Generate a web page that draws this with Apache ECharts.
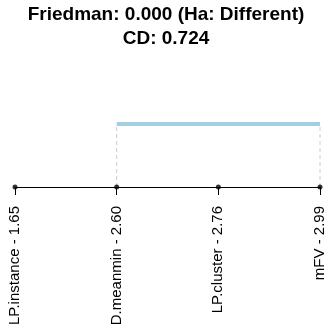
<!DOCTYPE html>
<html>
<head>
<meta charset="utf-8">
<script src="https://cdn.jsdelivr.net/npm/echarts@6/dist/echarts.min.js"></script>
<style>
html,body{margin:0;padding:0;background:#fff;}
#chart{width:332px;height:336px;}
</style>
</head>
<body>
<div id="chart"></div>
<script>
var methods = ['LP.instance', 'D.meanmin', 'LP.cluster', 'mFV'];
var ranks = [1.65, 2.60, 2.76, 2.99];
var cliques = [[1, 3]]; // index ranges of methods not significantly different
var titleLines = ['Friedman: 0.000 (Ha: Different)', 'CD: 0.724'];

var labels = methods.map(function (m, i) { return m + ' - ' + ranks[i].toFixed(2); });

var series = [];
cliques.forEach(function (c) {
  [c[0], c[1]].forEach(function (idx) {
    series.push({
      type: 'line', silent: true, symbol: 'none', z: 1,
      lineStyle: { color: '#cccccc', width: 1, type: [4, 3] },
      data: [[labels[idx], 0], [labels[idx], 1]]
    });
  });
  series.push({
    type: 'line', silent: true, symbol: 'none', z: 3,
    lineStyle: { color: '#a6cee3', width: 4, cap: 'butt' },
    data: [[labels[c[0]], 1], [labels[c[1]], 1]]
  });
});
series.push({
  type: 'scatter', silent: true, z: 4,
  symbolSize: 5,
  itemStyle: { color: '#000' },
  data: labels.map(function (l) { return [l, 0]; })
});

var titleStyle = {
  fontFamily: 'Liberation Sans', fontWeight: 'bold', fontSize: 19, color: '#000'
};

var chart = echarts.init(document.getElementById('chart'), null, { renderer: 'canvas' });
chart.setOption({
  animation: false,
  backgroundColor: '#fff',
  title: titleLines.map(function (t, i) {
    return { text: t, left: 'center', top: 5 + i * 24.5, padding: 0, textStyle: titleStyle };
  }),
  grid: { left: 15, right: 12, top: 124, bottom: 149, containLabel: false },
  xAxis: {
    type: 'category',
    data: labels,
    boundaryGap: false,
    axisLine: { show: true, lineStyle: { color: '#000', width: 1 } },
    axisTick: { show: true, length: 8, lineStyle: { color: '#000' } },
    axisLabel: {
      rotate: 90, margin: 19, interval: 0,
      fontFamily: 'Liberation Sans', fontSize: 15, color: '#000'
    },
    splitLine: { show: false }
  },
  yAxis: { type: 'value', min: 0, max: 1, show: false },
  series: series
});
</script>
</body>
</html>
